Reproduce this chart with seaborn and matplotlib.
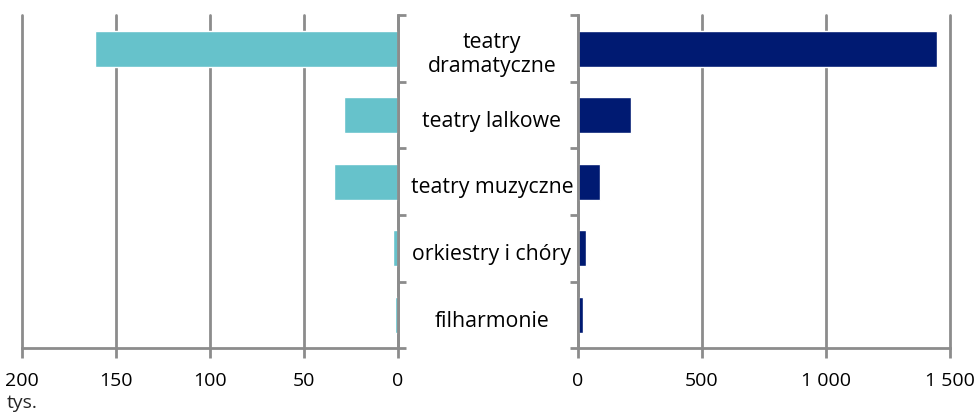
import matplotlib
matplotlib.use('Agg')
import matplotlib.pyplot as plt
import seaborn as sns
import pandas as pd
import numpy as np

# data
categories = ['teatry\ndramatyczne', 'teatry lalkowe', 'teatry muzyczne',
              'orkiestry i chóry', 'filharmonie']
left_values = [161, 29, 34, 2.8, 1.6]          # tys.
right_values = [1448, 212, 88, 32, 20]

left_ticks = [200, 150, 100, 50, 0]
right_ticks = [0, 500, 1000, 1500]
right_tick_labels = ['0', '500', '1 000', '1 500']

cyan = '#66C2CB'
navy = '#001A72'
grey = '#8C8C8C'

sns.set_theme(style='white')
plt.rcParams['font.family'] = ['Open Sans', 'DejaVu Sans']

df = pd.DataFrame({'cat': categories, 'left': left_values, 'right': right_values})

fig = plt.figure(figsize=(9.78, 4.12), dpi=100)
ax_l = fig.add_axes([0.0225, 0.155, 0.3845, 0.808])
ax_r = fig.add_axes([0.591, 0.155, 0.3805, 0.808])

sns.barplot(data=df, x='left', y='cat', ax=ax_l, color=cyan, width=0.54,
            saturation=1, orient='h')
sns.barplot(data=df, x='right', y='cat', ax=ax_r, color=navy, width=0.54,
            saturation=1, orient='h')

boundaries = np.arange(-0.5, len(categories), 1.0)

for ax in (ax_l, ax_r):
    ax.set_ylim(len(categories) - 0.5, -0.5)
    ax.set_xlabel('')
    ax.set_ylabel('')
    ax.set_yticks(boundaries)
    ax.set_yticklabels([])
    ax.grid(axis='x', color=grey, linewidth=2)
    ax.set_axisbelow(True)
    ax.spines['top'].set_visible(False)
    ax.spines['bottom'].set_color(grey)
    ax.spines['bottom'].set_linewidth(2)
    ax.tick_params(axis='x', length=7, width=2, color=grey, labelsize=14,
                   labelcolor='black', pad=10, bottom=True)
    ax.tick_params(axis='y', length=6, width=2, color=grey)

ax_l.set_xlim(200, 0)
ax_l.set_xticks(left_ticks)
ax_l.set_xticklabels([str(t) for t in left_ticks])
ax_l.spines['left'].set_visible(False)
ax_l.spines['right'].set_color(grey)
ax_l.spines['right'].set_linewidth(2)
ax_l.yaxis.tick_right()
ax_l.tick_params(axis='y', direction='out', right=True, left=False)

ax_r.set_xlim(0, 1500)
ax_r.set_xticks(right_ticks)
ax_r.set_xticklabels(right_tick_labels)
ax_r.spines['right'].set_visible(False)
ax_r.spines['left'].set_color(grey)
ax_r.spines['left'].set_linewidth(2)
ax_r.tick_params(axis='y', direction='out', left=True, right=False)

for ax in (ax_l, ax_r):
    for gl in ax.get_xgridlines():
        gl.set_clip_on(False)

# category labels in the gap between panels (sit a little below band centre)
for i, c in enumerate(categories):
    y = 0.963 - 0.808 * (i + 0.5) / len(categories) - 0.015
    fig.text(0.503, y, c, ha='center', va='center', fontsize=15.3,
             color='black', linespacing=1.2)

fig.text(0.0225, 0.0, 'tys.', ha='center', va='bottom', fontsize=14)

fig.savefig('out.png', dpi=100)
